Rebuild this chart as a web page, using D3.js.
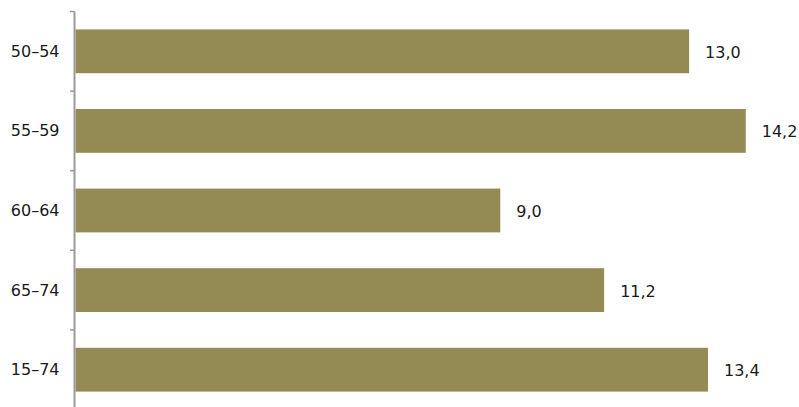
<!DOCTYPE html>
<html>
<head>
<meta charset="utf-8">
<script src="https://cdn.jsdelivr.net/npm/d3@7/dist/d3.min.js"></script>
<style>
  html, body { margin: 0; padding: 0; background: #ffffff; }
  svg { display: block; }
  text { font-family: "DejaVu Sans", Verdana, sans-serif; font-size: 16px; fill: #1a1a1a; }
</style>
</head>
<body>
<svg id="chart" width="799" height="407"></svg>
<script>
const categories = ["50–54", "55–59", "60–64", "65–74", "15–74"];
const values = [13.0, 14.2, 9.0, 11.2, 13.4];
const valueLabels = ["13,0", "14,2", "9,0", "11,2", "13,4"];

(function () {
const svg = d3.select("#chart");
const x0 = 75.5;
const x = d3.scaleLinear().domain([0, 15]).range([x0, x0 + 15 * 47.2]);
const y = d3.scaleBand().domain(categories).range([11.5, 409.5]).paddingInner(0.45).paddingOuter(0.225);

const step = y.step();
const yTop = 11.5;

// bars
svg.selectAll("rect.bar").data(values).enter().append("rect")
  .attr("class", "bar")
  .attr("x", x(0))
  .attr("y", (d, i) => y(categories[i]))
  .attr("width", d => x(d) - x(0))
  .attr("height", y.bandwidth())
  .attr("fill", "#948A54");

// axis line
svg.append("line")
  .attr("x1", 74.5).attr("x2", 74.5)
  .attr("y1", yTop).attr("y2", 407)
  .attr("stroke", "#9a9a9a").attr("stroke-width", 2);

// boundary ticks
const boundaries = d3.range(categories.length + 1).map(i => yTop + i * step);
svg.selectAll("line.tick").data(boundaries).enter().append("line")
  .attr("class", "tick")
  .attr("x1", 70).attr("x2", 74.5)
  .attr("y1", d => d).attr("y2", d => d)
  .attr("stroke", "#9a9a9a").attr("stroke-width", 1.5);

// category labels
svg.selectAll("text.cat").data(categories).enter().append("text")
  .attr("class", "cat")
  .attr("x", 59.5)
  .attr("y", d => y(d) + y.bandwidth() / 2)
  .attr("text-anchor", "end")
  .attr("dominant-baseline", "central")
  .text(d => d);

// value labels
svg.selectAll("text.val").data(values).enter().append("text")
  .attr("class", "val")
  .attr("x", d => x(d) + 16)
  .attr("y", (d, i) => y(categories[i]) + y.bandwidth() / 2 + 1)
  .attr("dominant-baseline", "central")
  .text((d, i) => valueLabels[i]);
})();
</script>
</body>
</html>
